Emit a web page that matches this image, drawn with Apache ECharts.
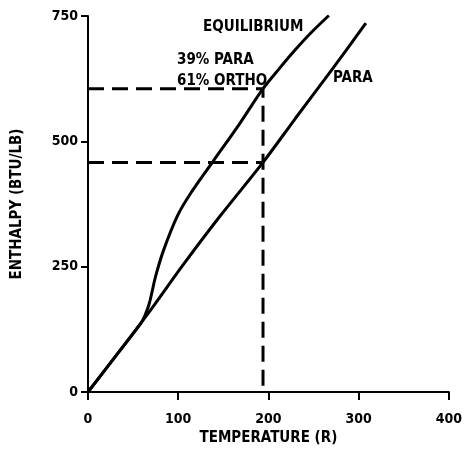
<!DOCTYPE html>
<html>
<head>
<meta charset="utf-8">
<script src="https://cdn.jsdelivr.net/npm/echarts@6/dist/echarts.min.js"></script>
<style>
  html, body { margin: 0; padding: 0; background: #fff; }
  #chart { width: 465px; height: 464px; }
</style>
</head>
<body>
<div id="chart"></div>
<script>
// Enthalpy of para and equilibrium hydrogen vs temperature
const xTicks = [0, 100, 200, 300, 400];
const yTicks = [0, 250, 500, 750];

// Para hydrogen: temperature (R), enthalpy (BTU/LB)
const paraT = [0, 30, 60, 74, 106, 146, 194, 230, 270, 308];
const paraH = [0, 70, 141, 175, 255, 350, 458, 546, 642, 736];

// Equilibrium hydrogen
const eqT = [0, 30, 59, 63, 68, 75, 84, 99, 114, 139, 168, 194, 212, 230, 248, 267];
const eqH = [0, 70, 138, 152, 177, 231, 284, 351, 397, 461, 535, 605, 645, 683, 718, 751];

// Reference point: 39% para / 61% ortho
const refT = 194;
const refEqH = 605;
const refParaH = 458;

const FONT = '"DejaVu Sans Condensed", "DejaVu Sans", sans-serif';
const zip = (a, b) => a.map((v, i) => [v, b[i]]);

const chart = echarts.init(document.getElementById('chart'), null, { renderer: 'canvas' });

const axisText = { color: '#000', fontFamily: FONT, fontWeight: 'bold', fontSize: 14 };

chart.setOption({
  backgroundColor: '#fff',
  animation: false,
  grid: { left: 88, right: 13, top: 16, bottom: 72 },
  xAxis: {
    type: 'value',
    min: xTicks[0], max: xTicks[xTicks.length - 1], interval: 100,
    name: 'TEMPERATURE (R)',
    nameLocation: 'middle',
    nameGap: 37,
    nameTextStyle: { color: '#000', fontFamily: FONT, fontWeight: 'bold', fontSize: 15 },
    axisLine: { lineStyle: { color: '#000', width: 2 } },
    axisTick: { show: true, length: 8, lineStyle: { color: '#000', width: 2 } },
    axisLabel: Object.assign({ margin: 20 }, axisText),
    splitLine: { show: false }
  },
  yAxis: {
    type: 'value',
    min: yTicks[0], max: yTicks[yTicks.length - 1], interval: 250,
    name: 'ENTHALPY (BTU/LB)',
    nameLocation: 'middle',
    nameGap: 63,
    nameRotate: 90,
    nameTextStyle: { color: '#000', fontFamily: FONT, fontWeight: 'bold', fontSize: 15 },
    axisLine: { show: true, lineStyle: { color: '#000', width: 2 } },
    axisTick: { show: true, length: 7, lineStyle: { color: '#000', width: 2 } },
    axisLabel: Object.assign({ margin: 10 }, axisText),
    splitLine: { show: false }
  },
  series: [
    {
      name: 'PARA',
      type: 'line',
      data: zip(paraT, paraH),
      smooth: 0.3,
      symbol: 'none',
      lineStyle: { color: '#000', width: 3 }
    },
    {
      name: 'EQUILIBRIUM',
      type: 'line',
      data: zip(eqT, eqH),
      smooth: 0.3,
      symbol: 'none',
      lineStyle: { color: '#000', width: 3 }
    },
    {
      name: 'ref-eq',
      type: 'line',
      data: [[0, refEqH], [refT, refEqH], [refT, 0]],
      symbol: 'none',
      lineStyle: { color: '#000', width: 3, type: [16, 8] }
    },
    {
      name: 'ref-para',
      type: 'line',
      data: [[0, refParaH], [refT, refParaH]],
      symbol: 'none',
      lineStyle: { color: '#000', width: 3, type: [16, 8] }
    }
  ],
  graphic: [
    { type: 'text', left: 203, top: 20, style: { text: 'EQUILIBRIUM', fill: '#000', font: 'bold 15px ' + FONT } },
    { type: 'text', left: 177, top: 53, style: { text: '39% PARA', fill: '#000', font: 'bold 15px ' + FONT } },
    { type: 'text', left: 177, top: 74, style: { text: '61% ORTHO', fill: '#000', font: 'bold 15px ' + FONT } },
    { type: 'text', left: 333, top: 71, style: { text: 'PARA', fill: '#000', font: 'bold 15px ' + FONT } }
  ]
});
</script>
</body>
</html>
